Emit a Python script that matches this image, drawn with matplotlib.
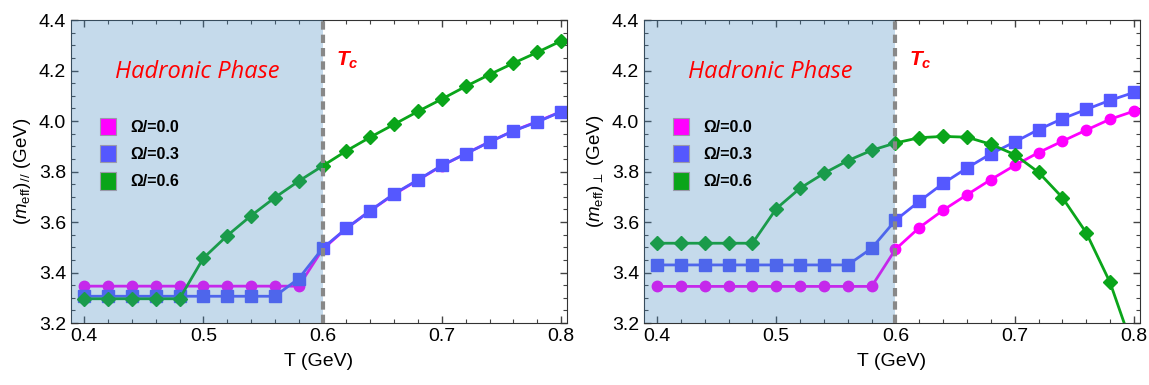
import matplotlib
matplotlib.use("Agg")
import matplotlib.pyplot as plt
from matplotlib.ticker import MultipleLocator
from matplotlib.patches import Patch

plt.rcParams["font.family"] = ["Liberation Sans", "DejaVu Sans"]
plt.rcParams["mathtext.fontset"] = "custom"
plt.rcParams["mathtext.rm"] = "Liberation Sans"
plt.rcParams["mathtext.it"] = "Liberation Sans:italic"
plt.rcParams["mathtext.bf"] = "Liberation Sans:bold:italic"

T = [0.40, 0.42, 0.44, 0.46, 0.48, 0.50, 0.52, 0.54, 0.56, 0.58,
     0.60, 0.62, 0.64, 0.66, 0.68, 0.70, 0.72, 0.74, 0.76, 0.78, 0.80]

# parallel effective mass
par_00 = [3.346, 3.346, 3.346, 3.346, 3.346, 3.346, 3.346, 3.346, 3.346, 3.346,
          3.492, 3.575, 3.645, 3.710, 3.766, 3.823, 3.871, 3.917, 3.961, 3.998, 4.037]
par_03 = [3.306, 3.306, 3.306, 3.306, 3.306, 3.306, 3.306, 3.306, 3.306, 3.376,
          3.496, 3.575, 3.645, 3.712, 3.767, 3.824, 3.870, 3.917, 3.961, 3.996, 4.037]
par_06 = [3.296, 3.296, 3.296, 3.296, 3.296, 3.457, 3.546, 3.625, 3.697, 3.762,
          3.822, 3.882, 3.936, 3.987, 4.038, 4.087, 4.137, 4.184, 4.229, 4.272, 4.317]

# perpendicular effective mass
perp_00 = [3.345, 3.345, 3.345, 3.345, 3.345, 3.345, 3.345, 3.345, 3.345, 3.345,
           3.492, 3.578, 3.647, 3.708, 3.768, 3.824, 3.875, 3.920, 3.964, 4.007, 4.039]
perp_03 = [3.430, 3.430, 3.430, 3.430, 3.430, 3.430, 3.430, 3.430, 3.430, 3.496,
           3.607, 3.682, 3.753, 3.814, 3.870, 3.917, 3.966, 4.009, 4.046, 4.082, 4.113]
perp_06 = [3.516, 3.516, 3.516, 3.516, 3.516, 3.653, 3.734, 3.793, 3.843, 3.884,
           3.913, 3.934, 3.939, 3.936, 3.908, 3.867, 3.797, 3.697, 3.558, 3.361, 3.09]

labels = ["\u03a9/=0.0", "\u03a9/=0.3", "\u03a9/=0.6"]
colors = ["#ff00ff", "#5558ff", "#0aa51a"]
markers = ["o", "s", "D"]
msizes = [7.5, 9, 7.5]
Tc = 0.6

fig = plt.figure(figsize=(11.49, 3.85), dpi=100)
ax1 = fig.add_axes([0.0618, 0.161, 0.4317, 0.787])
ax2 = fig.add_axes([0.5605, 0.161, 0.4315, 0.787])

panels = [
    (ax1, [par_00, par_03, par_06], r"$(\mathit{m}_{\rm eff})_{//}$ (GeV)"),
    (ax2, [perp_00, perp_03, perp_06], r"$(\mathit{m}_{\rm eff})_{\perp}$ (GeV)"),
]

for ax, series, ylabel in panels:
    for vals, c, m, ms in zip(series, colors, markers, msizes):
        ax.plot(T, vals, color=c, marker=m, markersize=ms, lw=2, zorder=2)
    ax.axvspan(0.385, Tc, color="#4187bf", alpha=0.3, lw=0, zorder=3)
    ax.axvline(Tc, color="#888888", ls=(0, (2, 1.2)), lw=3, zorder=4)
    ax.set_xlim(0.389, 0.805)
    ax.set_ylim(3.2, 4.4)
    ax.xaxis.set_major_locator(MultipleLocator(0.1))
    ax.xaxis.set_minor_locator(MultipleLocator(0.02))
    ax.yaxis.set_major_locator(MultipleLocator(0.2))
    ax.yaxis.set_minor_locator(MultipleLocator(0.05))
    ax.tick_params(which="both", direction="in", top=True, right=True,
                   labelsize=14, color="#444444")
    ax.tick_params(which="major", length=5, width=1.0)
    ax.tick_params(which="minor", length=3, width=0.8)
    ax.set_xlabel("T (GeV)", fontsize=14, labelpad=6)
    ax.set_ylabel(ylabel, fontsize=13.5)
    for s in ax.spines.values():
        s.set_color("#333333")

    ax.text(0.495, 4.195, "Hadronic Phase", color="red", fontsize=17,
            style="italic", family=["Open Sans", "DejaVu Sans"],
            ha="center", va="center", zorder=6)
    ax.text(Tc + 0.011, 4.24, r"$\mathbf{T_c}$", color="red", fontsize=15,
            ha="left", va="center", zorder=6)

    handles = [Patch(facecolor=c, edgecolor="#9999aa", lw=0.8) for c in colors]
    leg = ax.legend(handles, labels, loc="upper left", bbox_to_anchor=(0.03, 0.725),
                    frameon=False, handlelength=1.0, handleheight=1.3,
                    handletextpad=0.9, labelspacing=0.62,
                    prop={"weight": "bold", "size": 11.5})
    leg.set_zorder(7)

fig.savefig("out.png", dpi=100)
